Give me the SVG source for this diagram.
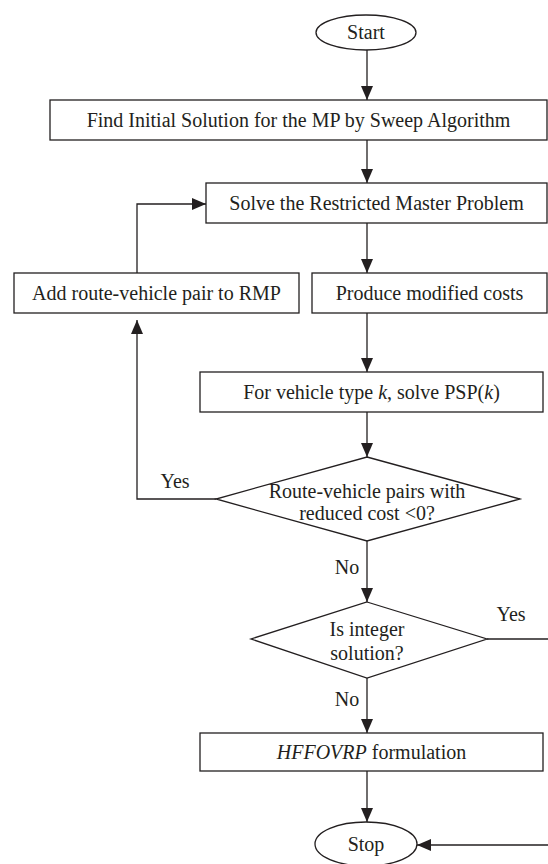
<svg xmlns="http://www.w3.org/2000/svg" width="548" height="864" viewBox="0 0 548 864">
<defs>
<marker id="arr" viewBox="0 0 14 12" refX="14" refY="6" markerWidth="14" markerHeight="12" markerUnits="userSpaceOnUse" orient="auto">
<path d="M0,0 L14,6 L0,12 z" fill="#231f20"/>
</marker>
<style>
.s{fill:#fff;stroke:#231f20;stroke-width:1.3}
.c{fill:none;stroke:#231f20;stroke-width:1.3}
.a{marker-end:url(#arr)}
text{font-family:"Liberation Serif","Times New Roman",serif;font-size:20px;fill:#231f20;text-anchor:middle}
.i{font-style:italic}
</style>
</defs>
<rect width="548" height="864" fill="#fff"/>
<g id="connectors">
<line class="c a" x1="367" y1="50" x2="367" y2="100"/>
<line class="c a" x1="367" y1="140" x2="367" y2="183"/>
<line class="c a" x1="367" y1="223" x2="367" y2="273"/>
<polyline class="c a" points="137,273 137,204 206,204"/>
<line class="c a" x1="367" y1="313" x2="367" y2="372"/>
<line class="c a" x1="367" y1="412" x2="367" y2="457"/>
<polyline class="c a" points="216,499 137,499 137,320"/>
<text x="175" y="488">Yes</text>
<line class="c a" x1="367" y1="541" x2="367" y2="602"/>
<text x="347" y="574">No</text>
<line class="c" x1="487" y1="639" x2="548" y2="639"/>
<text x="511" y="621">Yes</text>
<line class="c a" x1="367" y1="678" x2="367" y2="733"/>
<text x="347" y="706">No</text>
<line class="c a" x1="367" y1="771" x2="367" y2="822"/>
<line class="c a" x1="548" y1="845" x2="417" y2="845"/>
</g>
<g id="start">
<ellipse class="s" cx="366" cy="32.5" rx="50" ry="17.5"/>
<text x="366" y="39">Start</text>
</g>
<g id="init">
<rect class="s" x="50" y="100" width="497" height="40"/>
<text x="298.5" y="127">Find Initial Solution for the MP by Sweep Algorithm</text>
</g>
<g id="rmp">
<rect class="s" x="206" y="183" width="341" height="40"/>
<text x="376.5" y="210">Solve the Restricted Master Problem</text>
</g>
<g id="addpair">
<rect class="s" x="14" y="273" width="285" height="40"/>
<text x="156.5" y="300">Add route-vehicle pair to RMP</text>
</g>
<g id="modcost">
<rect class="s" x="312" y="273" width="235" height="40"/>
<text x="429.5" y="300">Produce modified costs</text>
</g>
<g id="psp">
<rect class="s" x="200" y="372" width="343" height="40"/>
<text x="371.5" y="399">For vehicle type <tspan class="i">k</tspan>, solve PSP(<tspan class="i">k</tspan>)</text>
</g>
<g id="dec1">
<polygon class="s" points="367,457 520,499 367,541 216,499"/>
<text x="367" y="498">Route-vehicle pairs with</text>
<text x="367" y="520">reduced cost &lt;0?</text>
</g>
<g id="dec2">
<polygon class="s" points="367,602 487,639 367,678 251,639"/>
<text x="367" y="636">Is integer</text>
<text x="367" y="660">solution?</text>
</g>
<g id="formulation">
<rect class="s" x="200" y="733" width="343" height="38"/>
<text x="371.5" y="759"><tspan class="i">HFFOVRP</tspan> formulation</text>
</g>
<g id="stop">
<ellipse class="s" cx="366" cy="844" rx="51" ry="22"/>
<text x="366" y="851">Stop</text>
</g>
</svg>
